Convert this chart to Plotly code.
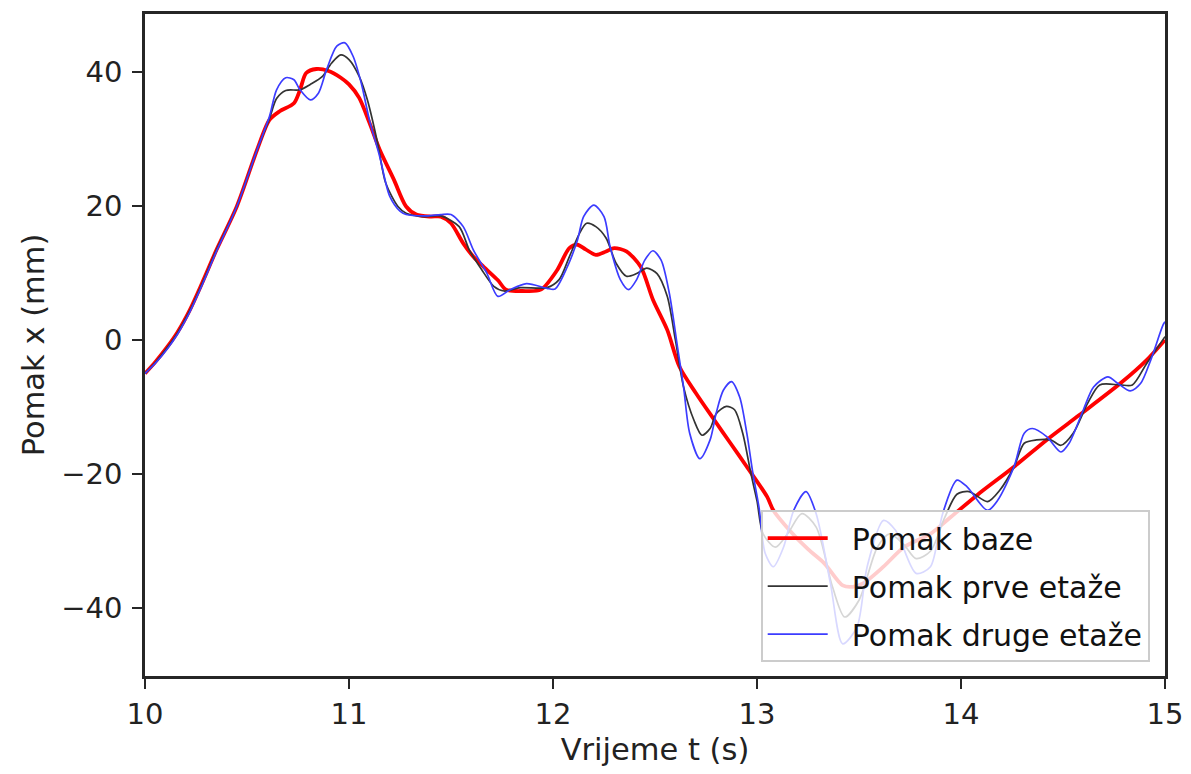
import plotly.graph_objects as go

# ---- data ----
t_baze = [10.0, 10.05, 10.11, 10.16, 10.22, 10.28, 10.35, 10.45, 10.55, 10.61, 10.66, 10.73, 10.76, 10.79,
          10.84, 10.90, 10.96, 11.00, 11.05, 11.10, 11.15, 11.22, 11.28, 11.33, 11.40, 11.45, 11.50, 11.56,
          11.61, 11.66, 11.73, 11.77, 11.85, 11.94, 12.02, 12.08, 12.12, 12.16, 12.21, 12.26, 12.30, 12.36,
          12.43, 12.49, 12.56, 12.62, 12.70, 12.79, 12.87, 12.95, 13.05, 13.08, 13.16, 13.25, 13.33, 13.42,
          13.47, 13.52, 13.62, 13.72, 13.85, 13.95, 14.08, 14.26, 14.42, 14.58, 14.78, 14.91, 15.0]
x_baze = [-5.0, -3.3, -1.0, 1.2, 4.5, 8.5, 13.4, 19.9, 28.4, 32.8, 34.1, 35.3, 37.3, 39.8,
          40.4, 40.1, 39.1, 38.1, 36.1, 32.4, 28.4, 23.9, 19.9, 18.7, 18.4, 18.4, 17.4, 14.4,
          12.4, 10.9, 8.9, 7.5, 7.3, 7.5, 10.4, 13.7, 14.2, 13.5, 12.7, 13.2, 13.7, 13.2,
          10.9, 6.0, 1.5, -4.0, -7.9, -11.9, -15.4, -18.9, -23.4, -25.4, -28.4, -31.2, -33.3, -36.6,
          -36.8, -36.3, -33.8, -30.9, -28.9, -26.4, -23.1, -18.9, -14.9, -11.2, -6.5, -3.0, 0.0]

t_prva = [10.0, 10.05, 10.11, 10.16, 10.22, 10.28, 10.35, 10.45, 10.55, 10.61, 10.645, 10.69, 10.76, 10.81,
          10.87, 10.915, 10.96, 11.0, 11.05, 11.09, 11.14, 11.18, 11.24, 11.28, 11.36, 11.45, 11.54, 11.59,
          11.65, 11.71, 11.76, 11.84, 11.97, 12.03, 12.08, 12.13, 12.165, 12.21, 12.26, 12.31, 12.36, 12.41,
          12.46, 12.51, 12.56, 12.60, 12.64, 12.69, 12.73, 12.77, 12.80, 12.85, 12.89, 12.93, 12.97, 13.0,
          13.03, 13.09, 13.15, 13.22, 13.29, 13.37, 13.43, 13.50, 13.59, 13.65, 13.72, 13.78, 13.85, 13.92,
          13.98, 14.04, 14.13, 14.19, 14.26, 14.31, 14.37, 14.44, 14.49, 14.55, 14.62, 14.68, 14.78, 14.84,
          14.91, 15.0]
x_prva = [-5.0, -3.4, -1.1, 1.1, 4.4, 8.4, 13.4, 19.9, 28.4, 33.0, 36.0, 37.2, 37.3, 38.1,
          39.3, 41.3, 42.5, 41.8, 39.3, 35.8, 29.4, 23.4, 19.9, 18.9, 18.4, 18.5, 16.9, 13.4,
          10.5, 8.0, 7.3, 7.8, 7.8, 9.0, 12.4, 15.9, 17.4, 16.9, 15.2, 11.4, 9.5, 9.9,
          10.7, 9.9, 6.5, 0.0, -7.0, -11.9, -14.2, -13.2, -11.0, -9.9, -10.4, -13.9, -19.9, -24.0,
          -28.9, -30.9, -28.9, -25.9, -27.9, -36.8, -41.3, -38.8, -30.9, -28.9, -30.5, -32.6, -31.5, -26.5,
          -23.0, -22.6, -24.1, -22.4, -18.9, -15.4, -14.9, -14.9, -15.7, -13.9, -9.5, -6.7, -6.7, -6.7,
          -3.5, 0.5]

t_druga = [10.0, 10.05, 10.11, 10.16, 10.22, 10.28, 10.35, 10.45, 10.55, 10.61, 10.645, 10.69, 10.73, 10.76,
           10.81, 10.85, 10.89, 10.94, 10.98, 11.02, 11.06, 11.10, 11.15, 11.20, 11.25, 11.28, 11.38, 11.45,
           11.50, 11.56, 11.61, 11.675, 11.73, 11.79, 11.87, 11.97, 12.01, 12.07, 12.12, 12.15, 12.20, 12.25,
           12.28, 12.33, 12.37, 12.41, 12.45, 12.49, 12.53, 12.57, 12.61, 12.64, 12.67, 12.72, 12.77, 12.80,
           12.835, 12.875, 12.915, 12.95, 12.98, 13.01, 13.04, 13.08, 13.13, 13.18, 13.24, 13.29, 13.36, 13.42,
           13.49, 13.54, 13.62, 13.68, 13.78, 13.85, 13.91, 13.98, 14.03, 14.13, 14.18, 14.26, 14.31, 14.35,
           14.42, 14.49, 14.53, 14.60, 14.65, 14.72, 14.77, 14.83, 14.88, 14.93, 14.99, 15.0]
x_druga = [-5.0, -3.5, -1.3, 0.9, 4.2, 8.2, 13.2, 19.9, 28.4, 33.3, 37.3, 39.1, 38.8, 37.3,
           35.8, 36.8, 40.3, 43.8, 44.3, 42.3, 38.3, 32.8, 27.4, 21.4, 19.2, 18.7, 18.5, 18.7,
           18.7, 16.9, 13.4, 10.0, 6.5, 7.5, 8.4, 7.7, 7.6, 10.9, 14.9, 18.4, 20.1, 18.4,
           13.9, 9.0, 7.5, 9.0, 11.9, 13.3, 11.9, 7.0, -1.0, -7.0, -13.9, -17.7, -14.9, -10.9,
           -7.5, -6.2, -8.5, -13.9, -19.9, -25.0, -31.8, -33.8, -30.9, -25.4, -22.6, -25.9, -36.3, -45.3,
           -42.8, -33.8, -26.9, -28.4, -34.8, -33.8, -25.9, -20.9, -21.9, -25.4, -23.9, -18.9, -13.9, -13.2,
           -14.4, -16.7, -15.4, -10.4, -7.0, -5.5, -6.5, -7.6, -6.5, -3.0, 2.2, 2.7]

x_ticks = [10, 11, 12, 13, 14, 15]
y_ticks = [-40, -20, 0, 20, 40]
names = ["Pomak baze", "Pomak prve etaže", "Pomak druge etaže"]

FONT = "DejaVu Sans"
fs_tick = 29
fs_title = 30.5
fs_leg = 30
pad = "\u00a0\u00a0"

fig = go.Figure()
fig.add_trace(go.Scatter(x=t_baze, y=x_baze, mode="lines", name=pad + names[0], legendgroup="a",
                         line=dict(color="#ff0000", width=3.8, shape="spline", smoothing=0.8)))
fig.add_trace(go.Scatter(x=t_prva, y=x_prva, mode="lines", name=pad + names[1], legendgroup="b",
                         line=dict(color="#333333", width=1.7, shape="spline", smoothing=0.8)))
fig.add_trace(go.Scatter(x=t_druga, y=x_druga, mode="lines", name=pad + names[2], legendgroup="c",
                         line=dict(color="#3c3cff", width=1.7, shape="spline", smoothing=0.8)))

axis_common = dict(showline=True, mirror=True, linecolor="#262626", linewidth=2.5,
                   ticks="outside", ticklen=10, tickwidth=2, tickcolor="#262626",
                   showgrid=False, zeroline=False, automargin=False,
                   tickfont=dict(family=FONT, size=fs_tick, color="#222222"))

fig.update_xaxes(range=[10, 15], tickvals=x_ticks, ticktext=[str(v) for v in x_ticks],
                 title=dict(text="Vrijeme t (s)", font=dict(family=FONT, size=fs_title, color="#222222"), standoff=10),
                 **axis_common)
fig.update_yaxes(range=[-50.1, 48.6], tickvals=y_ticks, ticklabelstandoff=4,
                 title=dict(text="Pomak x (mm)", font=dict(family=FONT, size=fs_title, color="#222222"), standoff=8),
                 **axis_common)

fig.update_layout(
    width=1191, height=774,
    margin=dict(l=145, r=26, t=14, b=98),
    paper_bgcolor="white", plot_bgcolor="white",
    font=dict(family=FONT, size=fs_tick, color="#222222"),
    legend=dict(x=0.985, y=0.021, xanchor="right", yanchor="bottom",
                bgcolor="rgba(255,255,255,0.8)", bordercolor="#cccccc", borderwidth=2,
                font=dict(family=FONT, size=fs_leg, color="#111111"),
                tracegroupgap=6, itemwidth=60),
    showlegend=True,
)

fig.write_html("out.html", config={"displayModeBar": False},
               post_script="document.body.style.margin='0';")
